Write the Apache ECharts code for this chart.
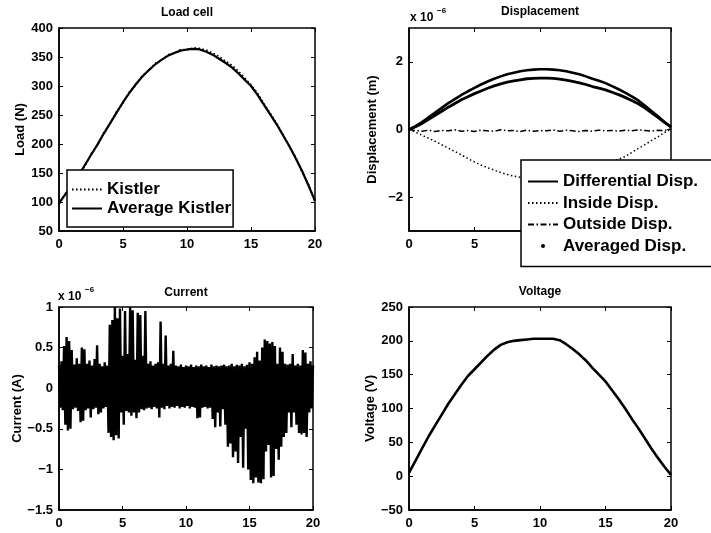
<!DOCTYPE html>
<html>
<head>
<meta charset="utf-8">
<script src="https://cdn.jsdelivr.net/npm/echarts@6/dist/echarts.min.js"></script>
<style>
  html, body { margin: 0; padding: 0; background: #fff; }
  #chart { width: 711px; height: 533px; }
</style>
</head>
<body>
<div id="chart"></div>
<script>
// Sampling of the recorded signals (seconds between samples)
const sampleStep = 0.5;
const currentStep = 0.1;

// Time axis ticks shared by all four panels
const timeTicks = [0, 5, 10, 15, 20];
const dispTicks = [-2, 0, 2];

// Load cell (N)
const loadKistler = [96, 115, 127, 147, 161, 183, 197, 220, 235, 256, 270, 290, 301, 318, 326, 339, 344, 354, 356, 363, 362, 366, 365, 362, 357, 351, 343, 336, 326, 314, 302, 288, 270, 253, 236, 217, 195, 177, 151, 130, 100];
const loadAverage = [98, 113, 129, 145, 163, 181, 199, 218, 236, 254, 272, 288, 303, 316, 327, 337, 345, 352, 357, 361, 363, 364, 363, 359, 354, 347, 340, 332, 322, 311, 300, 285, 268, 251, 234, 215, 196, 175, 153, 128, 102];

// Displacement (x 1e-6 m)
const dispDifferential = [0, 0.1, 0.22, 0.36, 0.5, 0.64, 0.78, 0.9, 1.02, 1.13, 1.23, 1.33, 1.42, 1.5, 1.57, 1.63, 1.68, 1.72, 1.75, 1.77, 1.78, 1.78, 1.77, 1.75, 1.72, 1.68, 1.63, 1.57, 1.5, 1.44, 1.37, 1.28, 1.19, 1.09, 0.98, 0.86, 0.71, 0.55, 0.39, 0.22, 0.07];
const dispInside = [0, -0.08, -0.17, -0.26, -0.35, -0.45, -0.55, -0.65, -0.75, -0.86, -0.96, -1.05, -1.13, -1.2, -1.27, -1.33, -1.38, -1.41, -1.43, -1.44, -1.44, -1.43, -1.42, -1.4, -1.37, -1.33, -1.29, -1.24, -1.17, -1.1, -1.03, -0.96, -0.88, -0.8, -0.68, -0.56, -0.45, -0.33, -0.22, -0.09, 0.02];
const dispOutside = [0, -0.03, -0.05, -0.02, -0.06, -0.03, -0.04, -0.01, -0.05, -0.03, -0.06, -0.02, -0.04, -0.05, -0.01, -0.04, -0.03, -0.06, -0.02, -0.05, -0.03, -0.04, -0.01, -0.05, -0.02, -0.04, -0.06, -0.03, -0.05, -0.02, -0.04, -0.03, -0.05, -0.02, -0.04, -0.01, -0.03, -0.05, -0.02, -0.03, 0.02];
const dispAveraged = [0, 0.08, 0.18, 0.3, 0.42, 0.54, 0.66, 0.77, 0.88, 0.97, 1.06, 1.14, 1.22, 1.29, 1.35, 1.4, 1.44, 1.47, 1.5, 1.51, 1.52, 1.52, 1.51, 1.49, 1.46, 1.42, 1.38, 1.33, 1.27, 1.22, 1.17, 1.1, 1.03, 0.95, 0.86, 0.76, 0.64, 0.5, 0.36, 0.21, 0.08];

// Current (x 1e-6 A)
const currentSignal = [
  0.28, -0.24, 0.33, -0.27, 0.52, -0.45, 0.63, -0.52, 0.58, -0.5,
  0.47, -0.26, 0.29, -0.24, 0.37, -0.28, 0.3, -0.42, 0.5, -0.4,
  0.48, -0.27, 0.3, -0.25, 0.34, -0.36, 0.28, -0.26, 0.36, -0.24,
  0.53, -0.32, 0.3, -0.3, 0.27, -0.25, 0.32, -0.23, 0.28, -0.55,
  0.78, -0.6, 0.84, -0.64, 1.0, -0.58, 0.86, -0.62, 0.98, -0.3,
  0.4, -0.45, 0.95, -0.28, 0.42, -0.3, 1.0, -0.34, 0.96, -0.3,
  0.35, -0.37, 0.93, -0.3, 0.9, -0.26, 0.4, -0.27, 0.95, -0.25,
  0.3, -0.24, 0.33, -0.26, 0.28, -0.23, 0.3, -0.25, 0.32, -0.36,
  0.82, -0.24, 0.3, -0.26, 0.65, -0.22, 0.28, -0.25, 0.3, -0.23,
  0.46, -0.24, 0.28, -0.22, 0.27, -0.25, 0.29, -0.23, 0.26, -0.24,
  0.28, -0.22, 0.27, -0.25, 0.29, -0.23, 0.26, -0.24, 0.28, -0.37,
  0.27, -0.36, 0.29, -0.24, 0.27, -0.23, 0.28, -0.25, 0.26, -0.24,
  0.29, -0.38, 0.27, -0.48, 0.28, -0.3, 0.27, -0.47, 0.28, -0.26,
  0.29, -0.45, 0.27, -0.72, 0.28, -0.68, 0.3, -0.85, 0.27, -0.78,
  0.29, -0.92, 0.28, -0.6, 0.3, -0.98, 0.27, -0.5, 0.29, -1.0,
  0.32, -1.13, 0.3, -1.17, 0.38, -1.1, 0.45, -1.16, 0.34, -1.17,
  0.5, -1.12, 0.6, -0.78, 0.58, -0.7, 0.55, -1.1, 0.57, -1.08,
  0.52, -0.75, 0.3, -0.88, 0.5, -0.72, 0.45, -0.6, 0.3, -0.55,
  0.29, -0.3, 0.3, -0.48, 0.42, -0.3, 0.28, -0.45, 0.3, -0.55,
  0.28, -0.57, 0.47, -0.55, 0.44, -0.6, 0.3, -0.3, 0.33, -0.25,
  0.28
];

// Voltage (V)
const voltageSignal = [5, 23, 41, 59, 75, 91, 107, 121, 135, 148, 158, 168, 178, 187, 194, 198, 200, 201, 202, 203, 203, 203, 203, 201, 195, 188, 180, 171, 160, 150, 140, 127, 114, 100, 85, 71, 56, 41, 27, 14, 2];

const FONT = "'Liberation Sans', Arial, Helvetica, sans-serif";
const INK = '#000';

function toPairs(values, step) {
  return values.map((v, i) => [+(i * step).toFixed(2), v]);
}

const grids = [
  { left: 59, top: 28, width: 256, height: 203 },
  { left: 409, top: 28, width: 262, height: 203 },
  { left: 59, top: 307, width: 254, height: 203 },
  { left: 409, top: 307, width: 262, height: 203 }
].map(g => Object.assign({ show: true, borderColor: INK, borderWidth: 1.5, backgroundColor: 'transparent' }, g));

const minusFmt = v => String(v).replace('-', '\u2212');

function timeAxis(gridIndex, mirror) {
  return {
    type: 'value', gridIndex, position: mirror ? 'top' : 'bottom',
    min: 0, max: 20, interval: 5,
    axisLine: { show: !mirror, onZero: false, lineStyle: { color: INK, width: 1.5 } },
    axisTick: { show: true, inside: true, length: 4, lineStyle: { color: INK, width: 1 } },
    axisLabel: {
      show: !mirror, color: INK, fontFamily: FONT, fontSize: 13, fontWeight: 'bold', margin: 7,
      customValues: timeTicks, formatter: minusFmt
    },
    splitLine: { show: false }
  };
}

function levelAxis(gridIndex, mirror, min, max, interval, name, nameGap, ticks) {
  const ax = {
    type: 'value', gridIndex, position: mirror ? 'right' : 'left',
    min, max, interval,
    axisLine: { show: !mirror, onZero: false, lineStyle: { color: INK, width: 1.5 } },
    axisTick: { show: true, inside: true, length: 4, lineStyle: { color: INK, width: 1 } },
    axisLabel: {
      show: !mirror, color: INK, fontFamily: FONT, fontSize: 13, fontWeight: 'bold', margin: 6,
      formatter: minusFmt
    },
    splitLine: { show: false }
  };
  if (ticks) {
    ax.axisLabel.customValues = ticks;
    ax.axisTick.customValues = ticks;
  }
  if (!mirror) {
    ax.name = name;
    ax.nameLocation = 'middle';
    ax.nameGap = nameGap;
    ax.nameRotate = 90;
    ax.nameTextStyle = { color: INK, fontFamily: FONT, fontSize: 13, fontWeight: 'bold' };
  }
  return ax;
}

const xAxes = [0, 1, 2, 3].map(g => timeAxis(g, false)).concat([0, 1, 2, 3].map(g => timeAxis(g, true)));
const yAxes = [
  levelAxis(0, false, 50, 400, 50, 'Load (N)', 27),
  levelAxis(1, false, -3, 3, 1, 'Displacement (m)', 30, dispTicks),
  levelAxis(2, false, -1.5, 1, 0.5, 'Current (A)', 29),
  levelAxis(3, false, -50, 250, 50, 'Voltage (V)', 28),
  levelAxis(0, true, 50, 400, 50),
  levelAxis(1, true, -3, 3, 1, '', 0, dispTicks),
  levelAxis(2, true, -1.5, 1, 0.5),
  levelAxis(3, true, -50, 250, 50)
];

function lineSeries(name, panel, values, step, lineStyle, extra) {
  return Object.assign({
    name, type: 'line', xAxisIndex: panel, yAxisIndex: panel,
    data: toPairs(values, step),
    symbol: 'none', silent: true, animation: false,
    itemStyle: { color: INK },
    lineStyle: Object.assign({ color: INK, width: 2 }, lineStyle)
  }, extra || {});
}

const series = [
  lineSeries('Average Kistler', 0, loadAverage, sampleStep, { width: 2.2 }),
  lineSeries('Kistler', 0, loadKistler, sampleStep, { width: 1.6, type: [1.6, 2.4] }),
  lineSeries('Differential Disp.', 1, dispDifferential, sampleStep, { width: 2.6 }),
  lineSeries('Inside Disp.', 1, dispInside, sampleStep, { width: 1.5, type: [1.5, 2.5] }),
  lineSeries('Outside Disp.', 1, dispOutside, sampleStep, { width: 1.5, type: [6, 2.5, 1.5, 2.5] }),
  lineSeries('Averaged Disp.', 1, dispAveraged, sampleStep, { width: 2.8 }, { symbol: 'circle', showSymbol: false }),
  lineSeries('Current', 2, currentSignal, currentStep, { width: 2.4, join: 'bevel' }, { sampling: null, large: false }),
  lineSeries('Voltage', 3, voltageSignal, sampleStep, { width: 2.6 })
];

const legendText = { color: INK, fontFamily: FONT, fontSize: 17, fontWeight: 'bold' };
const legendBase = {
  orient: 'vertical', selectedMode: false,
  itemWidth: 30, itemHeight: 5,
  backgroundColor: '#fff', borderColor: INK, borderWidth: 1.5, borderRadius: 0,
  textStyle: legendText
};

const legends = [
  Object.assign({}, legendBase, {
    left: 67, top: 170, itemGap: 2, padding: [11, 2, 10, 4],
    data: [
      { name: 'Kistler', itemStyle: { opacity: 0 } },
      { name: 'Average Kistler', itemStyle: { opacity: 0 } }
    ]
  }),
  Object.assign({}, legendBase, {
    left: 521, top: 160, itemGap: 4.5, padding: [13, 20, 12, 6],
    data: [
      { name: 'Differential Disp.', itemStyle: { opacity: 0 } },
      { name: 'Inside Disp.', itemStyle: { opacity: 0 } },
      { name: 'Outside Disp.', itemStyle: { opacity: 0 } },
      { name: 'Averaged Disp.', lineStyle: { opacity: 0 } }
    ]
  })
];

const titleStyle = { color: INK, fontFamily: FONT, fontSize: 12, fontWeight: 'bold' };
const titles = [
  { text: 'Load cell', left: 187, top: 7, textAlign: 'center', textStyle: titleStyle, padding: 0 },
  { text: 'Displacement', left: 540, top: 6, textAlign: 'center', textStyle: titleStyle, padding: 0 },
  { text: 'Current', left: 186, top: 287, textAlign: 'center', textStyle: titleStyle, padding: 0 },
  { text: 'Voltage', left: 540, top: 286, textAlign: 'center', textStyle: titleStyle, padding: 0 }
];

// Exponent markers above the displacement and current panels
function exponentLabel(x, y) {
  return [
    { type: 'text', left: x, top: y, style: { text: 'x 10', fill: INK, font: 'bold 12px ' + FONT } },
    { type: 'text', left: x + 27, top: y - 5, style: { text: '\u22126', fill: INK, font: 'bold 8px ' + FONT } }
  ];
}

const chart = echarts.init(document.getElementById('chart'), null, { renderer: 'canvas' });
chart.setOption({
  backgroundColor: '#fff',
  animation: false,
  title: titles,
  grid: grids,
  xAxis: xAxes,
  yAxis: yAxes,
  legend: legends,
  series,
  graphic: exponentLabel(410, 12).concat(exponentLabel(58, 291))
});
</script>
</body>
</html>
